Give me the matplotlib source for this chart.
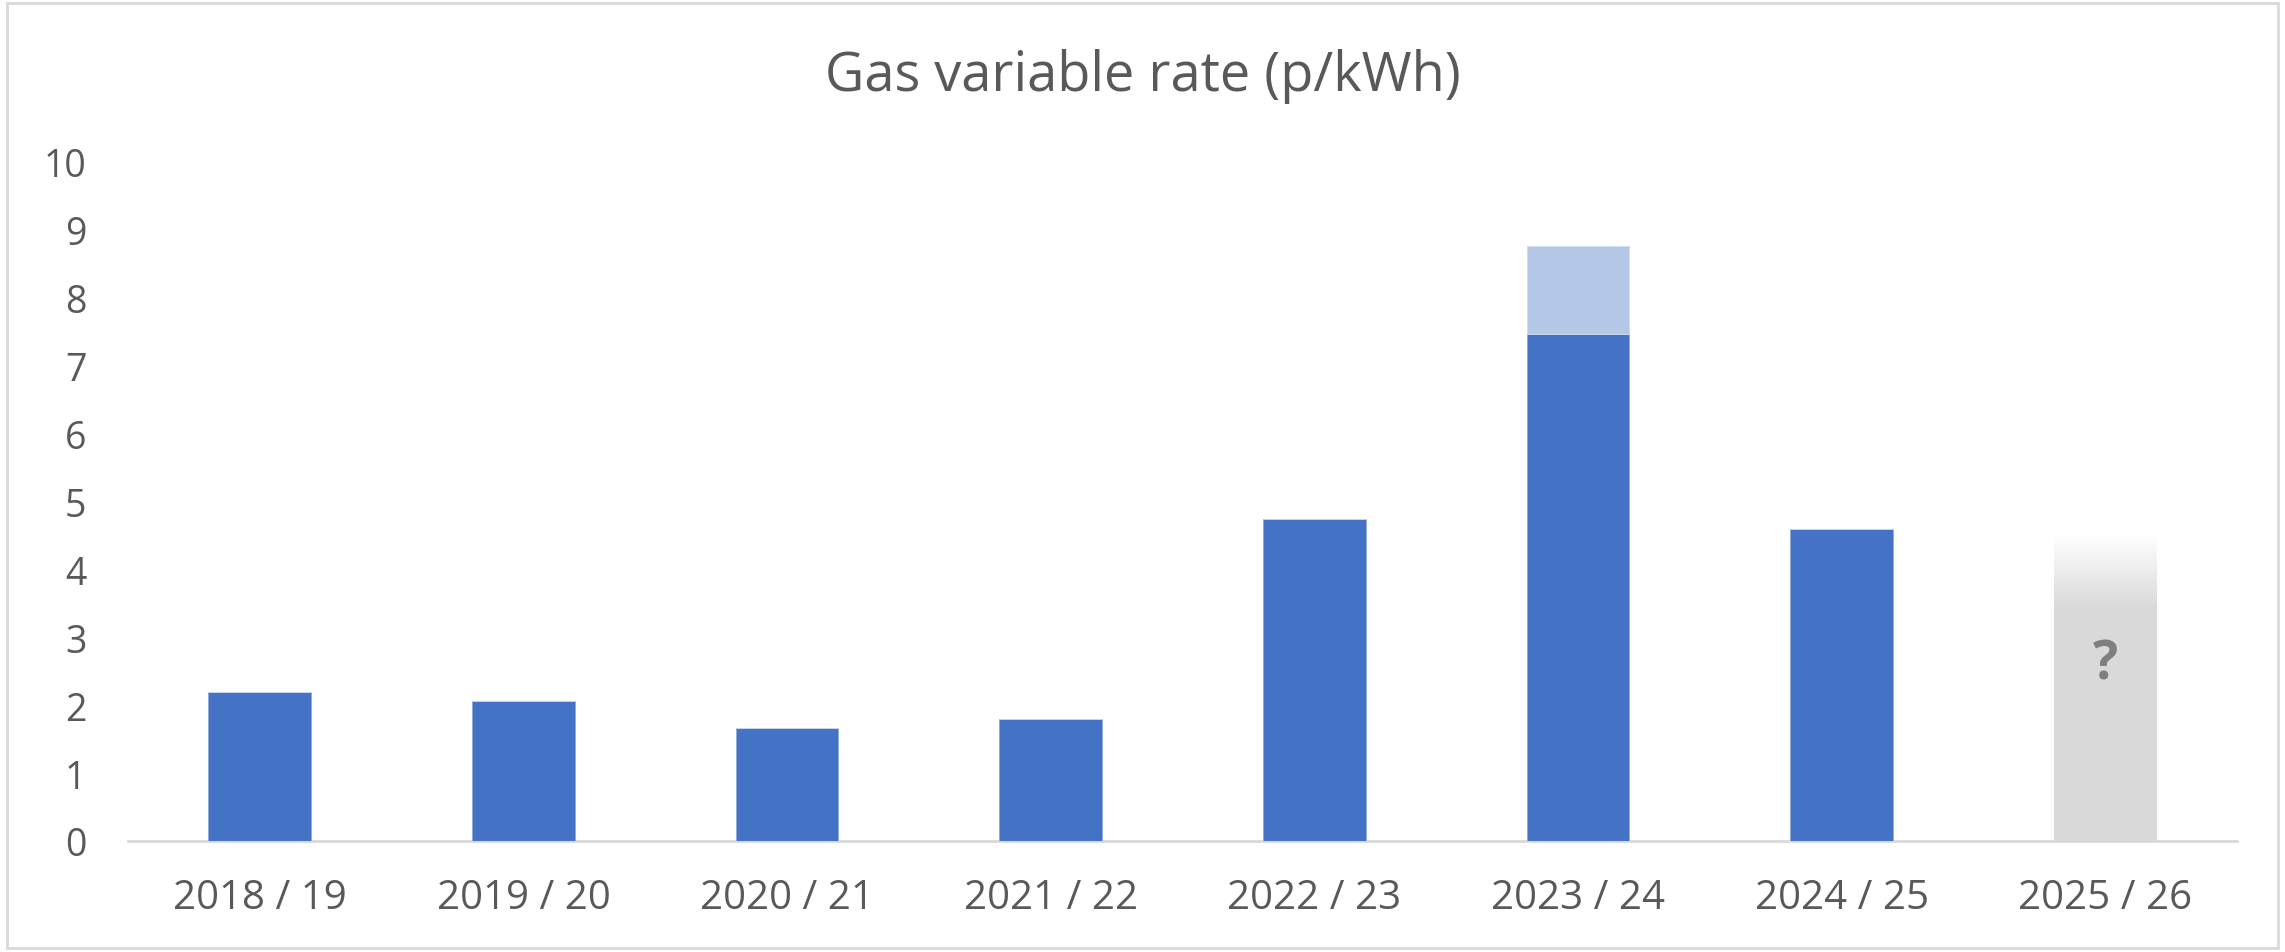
import numpy as np
import matplotlib
matplotlib.use("Agg")
import matplotlib.pyplot as plt
from matplotlib.patches import Rectangle
from matplotlib.colors import LinearSegmentedColormap

# data
seasons = ["2018 / 19", "2019 / 20", "2020 / 21", "2021 / 22",
           "2022 / 23", "2023 / 24", "2024 / 25", "2025 / 26"]
rate = [2.19, 2.06, 1.67, 1.80, 4.74, 7.47, 4.59, 0]
extra = [0, 0, 0, 0, 0, 1.29, 0, 0]
unknown_solid = 3.42
unknown_top = 4.52
unknown_idx = 7

plt.rcParams['font.family'] = ['Open Sans', 'DejaVu Sans']
txt = '#595959'

fig = plt.figure(figsize=(22.85, 9.53), dpi=100)
ax = fig.add_axes([0.056, 0.1165, 0.923, 0.7125])

x = np.arange(len(seasons))
w = 0.39
ax.bar(x, rate, width=w, color='#4472C4', edgecolor='#8FAADC', linewidth=0.6, zorder=2)
ax.bar(x, extra, bottom=rate, width=w, color='#B4C7E7', edgecolor='#D0DCF0', linewidth=0.6, zorder=2)

# the "?" bar: solid grey with a fade to white at the top
xi = x[unknown_idx]
ax.bar(xi, unknown_solid, width=w, color='#D9D9D9', zorder=2)
grad = np.linspace(0, 1, 200).reshape(-1, 1)
cmap = LinearSegmentedColormap.from_list('fade', ['#D9D9D9', '#FFFFFF'])
ax.imshow(grad, cmap=cmap, origin='lower', aspect='auto', zorder=2,
          extent=(xi - w / 2, xi + w / 2, unknown_solid, unknown_top))
ax.text(xi, 2.6, '?', ha='center', va='center', fontsize=38, fontweight='bold',
        color='#7F7F7F', zorder=3)

ax.set_xlim(-0.5, len(seasons) - 0.5)
ax.set_ylim(0, 10)
ax.set_yticks(range(0, 11))
ax.set_xticks(x)
ax.set_xticklabels(seasons)
ax.tick_params(axis='both', length=0, labelsize=27, colors=txt)
ax.tick_params(axis='x', labelsize=29, pad=26)
ax.tick_params(axis='y', pad=30)
for s in ['top', 'right', 'left']:
    ax.spines[s].set_visible(False)
ax.spines['bottom'].set_color('#D9D9D9')
ax.spines['bottom'].set_linewidth(2)
ax.spines['bottom'].set_zorder(1)

fig.text(0.5, 0.92, 'Gas variable rate (p/kWh)', ha='center', va='center',
         fontsize=39, color=txt)

# chart border
fig.patches.append(Rectangle((0.003, 0.004), 0.994, 0.992, transform=fig.transFigure,
                             fill=False, edgecolor='#D9D9D9', linewidth=2))

fig.savefig('out.png', dpi=100)
